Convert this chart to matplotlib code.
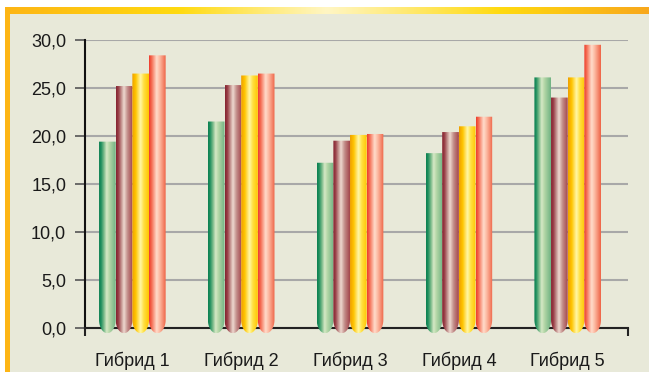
import numpy as np
import matplotlib
matplotlib.use("Agg")
import matplotlib.pyplot as plt
from matplotlib.colors import LinearSegmentedColormap
from matplotlib.path import Path
from matplotlib.patches import PathPatch, Rectangle

plt.rcParams['font.family'] = ['Liberation Sans', 'DejaVu Sans']

categories = ["Гибрид 1", "Гибрид 2", "Гибрид 3", "Гибрид 4", "Гибрид 5"]
series_green = [19.4, 21.5, 17.2, 18.2, 26.1]
series_brown = [25.2, 25.3, 19.5, 20.4, 24.0]
series_yellow = [26.5, 26.3, 20.1, 21.0, 26.1]
series_red = [28.4, 26.5, 20.2, 22.0, 29.5]
y_ticks = [0, 5, 10, 15, 20, 25, 30]
y_tick_labels = ["0,0", "5,0", "10,0", "15,0", "20,0", "25,0", "30,0"]

series = [series_green, series_brown, series_yellow, series_red]
cmaps = [
    LinearSegmentedColormap.from_list("g", [(0, "#0B8050"), (0.12, "#1E8F5E"), (0.3, "#7FBC8C"),
                                            (0.45, "#D6E9C6"), (0.62, "#B3D6A6"), (1.0, "#6FB283")]),
    LinearSegmentedColormap.from_list("b", [(0, "#842230"), (0.15, "#9A4048"), (0.32, "#C49490"),
                                            (0.47, "#EED9D0"), (0.68, "#C38E8A"), (1.0, "#A2434A")]),
    LinearSegmentedColormap.from_list("y", [(0, "#EE9E00"), (0.22, "#FFC500"), (0.5, "#FFF7A8"),
                                            (0.7, "#FFE040"), (1.0, "#FFC400")]),
    LinearSegmentedColormap.from_list("r", [(0, "#EE3A2C"), (0.15, "#F46A50"), (0.45, "#FFDCCB"),
                                            (0.62, "#FDBCA4"), (1.0, "#EE6245")]),
]

W, H = 649, 372
fig = plt.figure(figsize=(W / 100, H / 100), dpi=100)
fig.patch.set_facecolor("white")

# background frame
bg = fig.add_axes([0, 0, 1, 1], zorder=0)
grad = np.linspace(0, 1, 256).reshape(1, -1)
top_cmap = LinearSegmentedColormap.from_list("t", [(0, "#FDB515"), (0.27, "#FFDA10"), (0.5, "#FFF6C4"),
                                                   (0.77, "#FFDA10"), (1.0, "#F8A81C")])
bg.add_patch(Rectangle((5, 14), W - 5, H - 14, facecolor="#E8E9D9", edgecolor="none", zorder=1))
bg.add_patch(Rectangle((5, 7), 5, H - 7, facecolor="#FDB515", edgecolor="none", zorder=2))
bg.imshow(grad, cmap=top_cmap, extent=(5, W, 14, 7), aspect="auto", interpolation="bilinear", zorder=3)
bg.set_xlim(0, W)
bg.set_ylim(H, 0)
bg.axis("off")

# main axes
left_px, right_px = 85, 628
zero_px, top_px = 327.7, 40
scale_y = 30 / (zero_px - top_px)  # data units per pixel
cap_top = 8 * scale_y
cap_bot = -5.5 * scale_y
bottom_px = zero_px + 6
ymin = -(bottom_px - zero_px) * scale_y
ax = fig.add_axes([left_px / W, 1 - bottom_px / H, (right_px - left_px) / W, (bottom_px - top_px) / H], zorder=1)
ax.patch.set_alpha(0)
xl, xr = -0.435, 4.554
ax.set_xlim(xl, xr)
ax.set_ylim(ymin, 30)

ax.yaxis.grid(True, color="#A8A8A8", linewidth=1.5)
ax.set_axisbelow(True)
for s in ["top", "right"]:
    ax.spines[s].set_visible(False)
ax.spines["left"].set_linewidth(1.5)
ax.spines["bottom"].set_linewidth(1.5)
ax.spines["left"].set_color("#111111")
ax.spines["bottom"].set_color("#222222")
ax.spines["bottom"].set_position(("data", 0))
ax.spines["left"].set_bounds(0, 30)

ax.set_yticks(y_ticks)
ax.set_yticklabels(y_tick_labels, fontsize=13, color="#1a1a1a")
ax.tick_params(axis="y", length=7.5, width=1.2, color="#555555", pad=6)

ax.set_xticks([xl, xr])
ax.set_xticklabels(["", ""])
ax.tick_params(axis="x", which="major", length=6, width=1.5, color="#222222")
x = np.arange(len(categories))
ax.set_xticks(x, minor=True)
ax.set_xticklabels(categories, minor=True, fontsize=13, color="#1a1a1a")
ax.tick_params(axis="x", which="minor", length=0, pad=17)

bw = 0.153
offsets = (np.arange(4) - 1.5) * bw

for si, vals in enumerate(series):
    for ci, v in enumerate(vals):
        x0 = x[ci] + offsets[si] - bw / 2
        x1 = x0 + bw
        xc = (x0 + x1) / 2
        t = np.linspace(0, np.pi, 40)
        ex = xc + (bw / 2) * np.cos(t)
        ey = cap_top - (cap_top - cap_bot) * np.sin(t)
        verts = [(x0, v), (x1, v)] + list(zip(ex, ey)) + [(x0, v)]
        codes = [Path.MOVETO] + [Path.LINETO] * (len(verts) - 2) + [Path.CLOSEPOLY]
        path = Path(verts, codes)
        patch = PathPatch(path, facecolor="none", edgecolor="none", transform=ax.transData)
        ax.add_patch(patch)
        im = ax.imshow(grad, cmap=cmaps[si], extent=(x0, x1, cap_bot, v), aspect="auto",
                       interpolation="bilinear", zorder=3)
        im.set_clip_path(patch)

ax.set_xlim(xl, xr)
ax.set_ylim(ymin, 30)

fig.savefig("out.png", dpi=100)
